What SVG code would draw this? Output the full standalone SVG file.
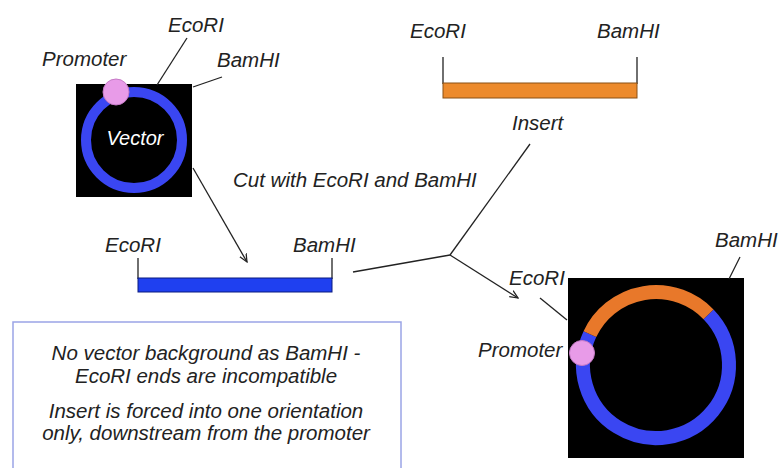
<svg xmlns="http://www.w3.org/2000/svg" width="779" height="468" viewBox="0 0 779 468">
<defs>
<style>
.t{font-family:"Liberation Sans",Arial,sans-serif;font-style:italic;font-size:20.5px;fill:#222}
.ln{stroke:#222;stroke-width:1.3;fill:none}
.box{fill:#000}
.blue{stroke:#3a46f2;fill:none}
.org{stroke:#e8782a;fill:none}
.prom{fill:#e89be8;stroke:#c67ac6;stroke-width:1}
</style>
<marker id="ah" viewBox="0 0 10 10" refX="9" refY="5" markerWidth="9" markerHeight="9" orient="auto" markerUnits="userSpaceOnUse">
<path d="M0,1 L9,5 L0,9" fill="none" stroke="#222" stroke-width="1.4"/>
</marker>
</defs>
<rect width="779" height="468" fill="#fff"/>

<g id="vector">
<rect class="box" x="76" y="84" width="116" height="113"/>
<circle class="blue" cx="134" cy="140" r="48" stroke-width="10"/>
<circle class="prom" cx="116" cy="92" r="13"/>
<text x="135" y="145" text-anchor="middle" style="font-family:'Liberation Sans',Arial,sans-serif;font-style:italic;font-size:20px;fill:#fff">Vector</text>
<text class="t" x="42" y="66">Promoter</text>
<text class="t" x="168" y="32">EcoRI</text>
<text class="t" x="217" y="67">BamHI</text>
<line class="ln" x1="187" y1="38" x2="157" y2="85"/>
<line class="ln" x1="222" y1="77" x2="193" y2="87"/>
</g>

<g id="insert">
<line class="ln" x1="443" y1="57" x2="443" y2="84"/>
<line class="ln" x1="637" y1="57" x2="637" y2="84"/>
<rect x="443" y="83" width="194" height="15" fill="#ec8a2c" stroke="#8a5015" stroke-width="1"/>
<text class="t" x="410" y="38">EcoRI</text>
<text class="t" x="597" y="38">BamHI</text>
<text class="t" x="512" y="130">Insert</text>
</g>

<g id="cut-vector">
<line class="ln" x1="138" y1="258" x2="138" y2="279"/>
<line class="ln" x1="332" y1="258" x2="332" y2="279"/>
<rect x="138" y="278" width="194" height="14" fill="#1f40f0" stroke="#0b1a80" stroke-width="1"/>
<text class="t" x="105" y="252">EcoRI</text>
<text class="t" x="293" y="252">BamHI</text>
</g>

<g id="label-cut">
<text class="t" x="233" y="187">Cut with EcoRI and BamHI</text>
</g>

<g id="recombinant">
<rect class="box" x="568" y="278" width="176" height="180"/>
<path class="blue" d="M708.5,314.3 A73,73 0 1 1 589.9,334.1" stroke-width="14"/>
<path class="org" d="M589.9,334.1 A73,73 0 0 1 708.5,314.3" stroke-width="14"/>
<circle class="prom" cx="582" cy="353" r="12.5"/>
<text class="t" x="509" y="285">EcoRI</text>
<text class="t" x="715" y="247">BamHI</text>
<text class="t" x="478" y="357">Promoter</text>
<line class="ln" x1="540" y1="298" x2="567" y2="320"/>
<line class="ln" x1="740" y1="257" x2="729" y2="279"/>
</g>

<g id="note">
<rect x="13" y="322" width="388" height="160" fill="#fff" stroke="#9aa4e6" stroke-width="1.5"/>
<text class="t" x="206" y="360" text-anchor="middle">No vector background as BamHI -</text>
<text class="t" x="206" y="383" text-anchor="middle">EcoRI ends are incompatible</text>
<text class="t" x="206" y="418" text-anchor="middle">Insert is forced into one orientation</text>
<text class="t" x="206" y="440" text-anchor="middle">only, downstream from the promoter</text>
</g>

<g id="connectors">
<line class="ln" x1="193" y1="168" x2="247" y2="262" marker-end="url(#ah)"/>
<line class="ln" x1="353" y1="272" x2="450" y2="255"/>
<line class="ln" x1="530" y1="144" x2="450" y2="255"/>
<line class="ln" x1="450" y1="255" x2="518" y2="298" marker-end="url(#ah)"/>
</g>
</svg>
